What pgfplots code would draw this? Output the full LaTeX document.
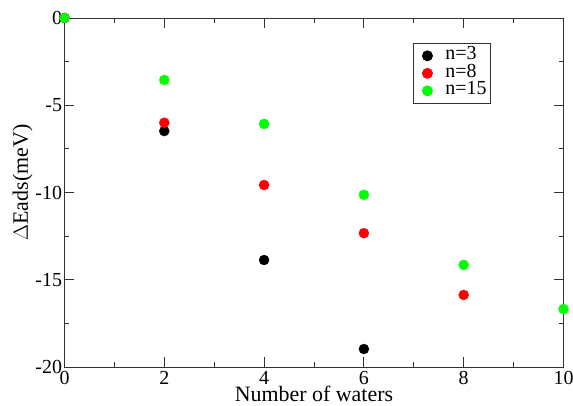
\documentclass[border=0pt]{standalone}
\usepackage{pgfplots}
\pgfplotsset{compat=1.18}
\usepackage{fontspec}
\setmainfont{Liberation Serif}
\begin{document}
\begin{tikzpicture}
\begin{axis}[
  scale only axis,
  width=499bp, height=349bp,
  xmin=0, xmax=10, ymin=-20, ymax=0,
  xtick={0,2,...,10}, ytick={-20,-15,...,0},
  minor x tick num=1, minor y tick num=1,
  tick align=inside,
  major tick length=10bp, minor tick length=5bp,
  axis line style={line width=0.9bp, black!80},
  every tick/.style={line width=0.9bp, black!80},
  /pgf/number format/assume math mode=true,
  ticklabel style={font=\fontsize{20}{22}\selectfont},
  xticklabel style={yshift=-0.5bp},
  yticklabel style={xshift=1bp},
  xlabel={Number of waters},
  ylabel={$\Delta$Eads(meV)},
  label style={font=\fontsize{22}{24}\selectfont},
  xlabel style={yshift=5bp},
  ylabel style={yshift=-4bp, xshift=10bp},
  clip=false,
  legend style={at={(0.6984,0.928)}, anchor=north west, draw=black!80, line width=0.9bp,
    font=\fontsize{20}{20}\selectfont, inner xsep=4bp, inner ysep=3.5bp, row sep=0bp,
    nodes={inner xsep=0bp, inner ysep=1.5bp, text height=11bp, text depth=3.5bp}},
  legend image code/.code={\path[mark repeat=2, mark phase=2, #1, only marks, draw=none] plot coordinates {(0bp,0bp) (10bp,0bp) (20bp,0bp)}; \path[draw=none, fill=none] (0bp,0bp) (28bp,0bp);},
  legend cell align=left,
  every axis plot/.append style={only marks, mark=*, mark size=5bp},
]
\addplot[black, mark options={fill=black, draw=black}] coordinates {(0,0) (2,-6.48) (4,-13.87) (6,-18.97)};
\addlegendentry{n=3}
\addplot[red, mark options={fill=red, draw=red}] coordinates {(0,0) (2,-6.0) (4,-9.57) (6,-12.33) (8,-15.87)};
\addlegendentry{n=8}
\addplot[green, mark options={fill=green, draw=green}] coordinates {(0,0) (2,-3.55) (4,-6.07) (6,-10.13) (8,-14.15) (10,-16.68)};
\addlegendentry{n=15}
\end{axis}
\pgfresetboundingbox
\path (current axis.south west) ++(-64.5bp,-39bp) coordinate (bl);
\path (current axis.south west) ++(508.5bp,367bp) coordinate (tr);
\useasboundingbox (bl) rectangle (tr);
\end{tikzpicture}
\end{document}
